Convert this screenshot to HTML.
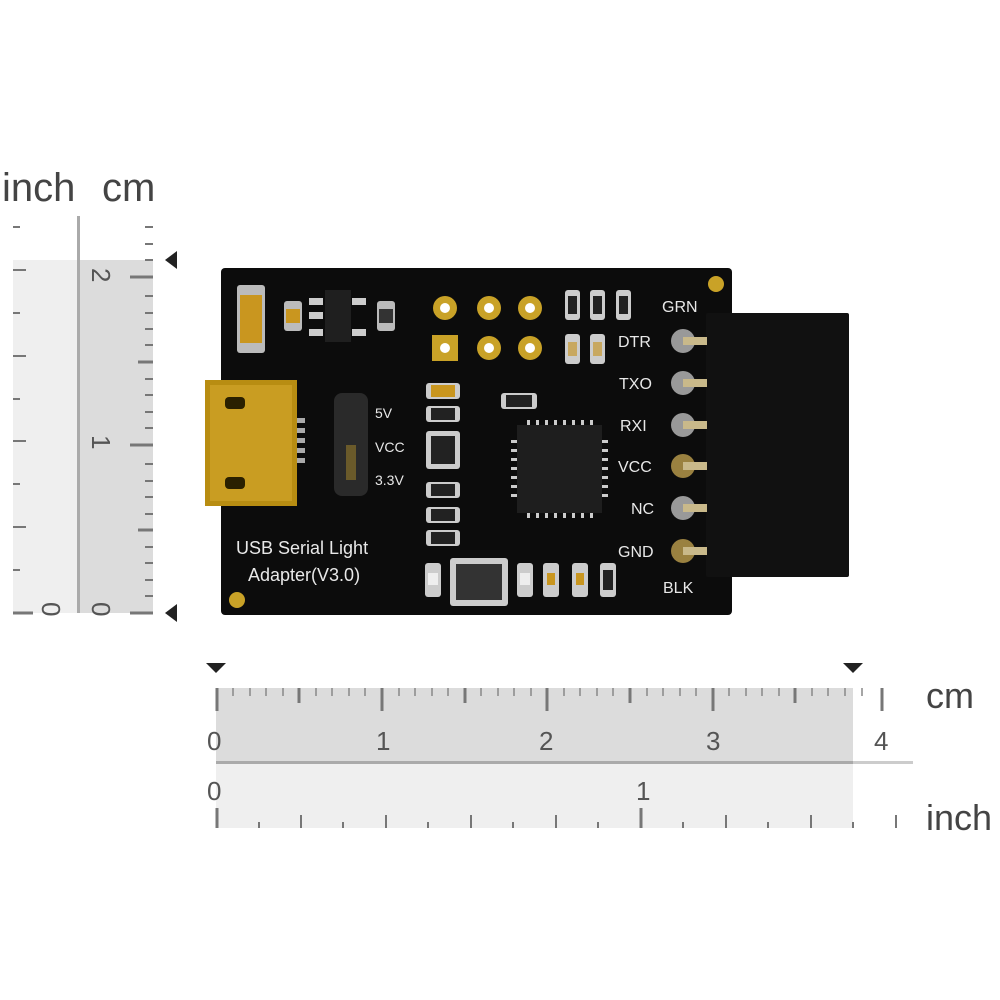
<!DOCTYPE html>
<html><head><meta charset="utf-8"><style>
body{margin:0;background:#fff}
svg{display:block}
text{font-family:"Liberation Sans","DejaVu Sans",sans-serif}
</style></head><body>
<svg width="1000" height="1000" viewBox="0 0 1000 1000" xmlns="http://www.w3.org/2000/svg">
<rect width="1000" height="1000" fill="#fff"/>
<!-- left ruler -->
<text x="2" y="201" font-size="40" fill="#444">inch</text>
<text x="102" y="201" font-size="40" fill="#444">cm</text>
<rect x="13" y="260" width="65" height="353" fill="#efefef"/>
<rect x="78" y="260" width="75" height="353" fill="#dcdcdc"/>
<rect x="77" y="216" width="3" height="397" fill="#aaa"/>
<g stroke="#777" stroke-width="2">
<line x1="145" y1="227" x2="153" y2="227"/><line x1="145" y1="244" x2="153" y2="244"/><line x1="145" y1="260" x2="153" y2="260"/>
<line x1="130" y1="277" x2="153" y2="277" stroke-width="3"/>
<line x1="145" y1="296" x2="153" y2="296"/><line x1="145" y1="313" x2="153" y2="313"/><line x1="145" y1="329" x2="153" y2="329"/><line x1="145" y1="345" x2="153" y2="345"/>
<line x1="138" y1="362" x2="153" y2="362" stroke-width="3"/>
<line x1="145" y1="379" x2="153" y2="379"/><line x1="145" y1="395" x2="153" y2="395"/><line x1="145" y1="412" x2="153" y2="412"/><line x1="145" y1="428" x2="153" y2="428"/>
<line x1="130" y1="445" x2="153" y2="445" stroke-width="3"/>
<line x1="145" y1="464" x2="153" y2="464"/><line x1="145" y1="481" x2="153" y2="481"/><line x1="145" y1="497" x2="153" y2="497"/><line x1="145" y1="514" x2="153" y2="514"/>
<line x1="138" y1="530" x2="153" y2="530" stroke-width="3"/>
<line x1="145" y1="547" x2="153" y2="547"/><line x1="145" y1="563" x2="153" y2="563"/><line x1="145" y1="580" x2="153" y2="580"/><line x1="145" y1="596" x2="153" y2="596"/>
<line x1="130" y1="613" x2="153" y2="613" stroke-width="3"/>
<line x1="13" y1="227" x2="20" y2="227"/><line x1="13" y1="270" x2="26" y2="270"/><line x1="13" y1="313" x2="20" y2="313"/><line x1="13" y1="356" x2="26" y2="356"/><line x1="13" y1="399" x2="20" y2="399"/><line x1="13" y1="441" x2="26" y2="441"/><line x1="13" y1="484" x2="20" y2="484"/><line x1="13" y1="527" x2="26" y2="527"/><line x1="13" y1="570" x2="20" y2="570"/><line x1="13" y1="613" x2="33" y2="613" stroke-width="3"/>
</g>
<g fill="#555" font-size="26">
<text transform="translate(92,268) rotate(90)">2</text>
<text transform="translate(92,435) rotate(90)">1</text>
<text transform="translate(92,602) rotate(90)">0</text>
<text transform="translate(42,602) rotate(90)">0</text>
</g>
<polygon points="165,260 177,251 177,269" fill="#222"/>
<polygon points="165,613 177,604 177,622" fill="#222"/>
<!-- bottom ruler -->
<rect x="216" y="688" width="637" height="75" fill="#dcdcdc"/>
<rect x="216" y="763" width="637" height="65" fill="#efefef"/>
<rect x="216" y="761" width="697" height="3" fill="#ccc"/>
<rect x="216" y="761" width="637" height="3" fill="#aaa"/>
<g stroke="#777" stroke-width="2">
<line x1="217" y1="688" x2="217" y2="711" stroke-width="3"/>
<line x1="382" y1="688" x2="382" y2="711" stroke-width="3"/>
<line x1="547" y1="688" x2="547" y2="711" stroke-width="3"/>
<line x1="713" y1="688" x2="713" y2="711" stroke-width="3"/>
<line x1="882" y1="688" x2="882" y2="711" stroke-width="3"/>
<line x1="299" y1="688" x2="299" y2="703" stroke-width="3"/><line x1="465" y1="688" x2="465" y2="703" stroke-width="3"/><line x1="630" y1="688" x2="630" y2="703" stroke-width="3"/><line x1="795" y1="688" x2="795" y2="703" stroke-width="3"/>
</g>
<g stroke="#888" stroke-width="1.5">
<line x1="233" y1="688" x2="233" y2="696"/><line x1="250" y1="688" x2="250" y2="696"/><line x1="266" y1="688" x2="266" y2="696"/><line x1="283" y1="688" x2="283" y2="696"/>
<line x1="316" y1="688" x2="316" y2="696"/><line x1="332" y1="688" x2="332" y2="696"/><line x1="349" y1="688" x2="349" y2="696"/><line x1="365" y1="688" x2="365" y2="696"/>
<line x1="399" y1="688" x2="399" y2="696"/><line x1="415" y1="688" x2="415" y2="696"/><line x1="432" y1="688" x2="432" y2="696"/><line x1="448" y1="688" x2="448" y2="696"/>
<line x1="481" y1="688" x2="481" y2="696"/><line x1="498" y1="688" x2="498" y2="696"/><line x1="514" y1="688" x2="514" y2="696"/><line x1="531" y1="688" x2="531" y2="696"/>
<line x1="564" y1="688" x2="564" y2="696"/><line x1="580" y1="688" x2="580" y2="696"/><line x1="597" y1="688" x2="597" y2="696"/><line x1="613" y1="688" x2="613" y2="696"/>
<line x1="647" y1="688" x2="647" y2="696"/><line x1="663" y1="688" x2="663" y2="696"/><line x1="680" y1="688" x2="680" y2="696"/><line x1="696" y1="688" x2="696" y2="696"/>
<line x1="729" y1="688" x2="729" y2="696"/><line x1="746" y1="688" x2="746" y2="696"/><line x1="762" y1="688" x2="762" y2="696"/><line x1="779" y1="688" x2="779" y2="696"/>
<line x1="812" y1="688" x2="812" y2="696"/><line x1="828" y1="688" x2="828" y2="696"/><line x1="845" y1="688" x2="845" y2="696"/><line x1="862" y1="688" x2="862" y2="696"/>
</g>
<g stroke="#777" stroke-width="2">
<line x1="217" y1="808" x2="217" y2="828" stroke-width="3"/>
<line x1="641" y1="808" x2="641" y2="828" stroke-width="3"/>
<line x1="259" y1="822" x2="259" y2="828"/><line x1="301" y1="815" x2="301" y2="828"/><line x1="343" y1="822" x2="343" y2="828"/><line x1="386" y1="815" x2="386" y2="828"/><line x1="428" y1="822" x2="428" y2="828"/><line x1="471" y1="815" x2="471" y2="828"/><line x1="513" y1="822" x2="513" y2="828"/><line x1="556" y1="815" x2="556" y2="828"/><line x1="598" y1="822" x2="598" y2="828"/>
<line x1="683" y1="822" x2="683" y2="828"/><line x1="726" y1="815" x2="726" y2="828"/><line x1="768" y1="822" x2="768" y2="828"/><line x1="811" y1="815" x2="811" y2="828"/><line x1="853" y1="822" x2="853" y2="828"/><line x1="896" y1="815" x2="896" y2="828"/>
</g>
<g fill="#555" font-size="26">
<text x="207" y="750">0</text><text x="376" y="750">1</text><text x="539" y="750">2</text><text x="706" y="750">3</text><text x="874" y="750">4</text>
<text x="207" y="800">0</text><text x="636" y="800">1</text>
</g>
<text x="926" y="708" font-size="36" fill="#444">cm</text>
<text x="926" y="830" font-size="36" fill="#444">inch</text>
<polygon points="216,673 206,663 226,663" fill="#222"/>
<polygon points="853,673 843,663 863,663" fill="#222"/>
<!-- board -->
<rect x="221" y="268" width="511" height="347" rx="4" fill="#0c0c0c"/>
<!-- header -->
<rect x="706" y="313" width="143" height="264" rx="2" fill="#111"/>
<g font-size="16" fill="#e8e8e8" font-family="DejaVu Sans">
<text x="662" y="312">GRN</text><text x="618" y="347">DTR</text><text x="619" y="389">TXO</text><text x="620" y="431">RXI</text><text x="618" y="472">VCC</text><text x="631" y="514">NC</text><text x="618" y="557">GND</text><text x="663" y="593">BLK</text>
<text x="236" y="554" font-size="18" font-family="Liberation Sans">USB Serial Light</text>
<text x="248" y="581" font-size="18" font-family="Liberation Sans">Adapter(V3.0)</text>
<text x="375" y="418" font-size="14">5V</text><text x="375" y="452" font-size="14">VCC</text><text x="375" y="485" font-size="14">3.3V</text>
</g>
<g>
<g fill="#999"><circle cx="683" cy="341" r="12"/><circle cx="683" cy="383" r="12"/><circle cx="683" cy="425" r="12"/><circle cx="683" cy="466" r="12" fill="#9a8140"/><circle cx="683" cy="508" r="12"/><circle cx="683" cy="551" r="12" fill="#9a8140"/></g>
<g fill="#c9b98a"><rect x="683" y="337" width="24" height="8"/><rect x="683" y="379" width="24" height="8"/><rect x="683" y="421" width="24" height="8"/><rect x="683" y="462" width="24" height="8"/><rect x="683" y="504" width="24" height="8"/><rect x="683" y="547" width="24" height="8"/></g>
</g>
<!-- usb connector -->
<rect x="205" y="380" width="92" height="126" fill="#b88d12"/>
<rect x="210" y="385" width="82" height="116" fill="#c99d22"/>
<rect x="225" y="397" width="20" height="12" rx="4" fill="#2a2000"/>
<rect x="225" y="477" width="20" height="12" rx="4" fill="#2a2000"/>
<g fill="#aaa"><rect x="297" y="418" width="8" height="5"/><rect x="297" y="428" width="8" height="5"/><rect x="297" y="438" width="8" height="5"/><rect x="297" y="448" width="8" height="5"/><rect x="297" y="458" width="8" height="5"/></g>
<!-- jumper -->
<rect x="334" y="393" width="34" height="103" rx="8" fill="#2a2a2a"/>
<rect x="346" y="445" width="10" height="35" fill="#6a5a2a"/>
<!-- fuse & regulator -->
<rect x="237" y="285" width="28" height="68" rx="3" fill="#bbb"/>
<rect x="240" y="295" width="22" height="48" fill="#c9961f"/>
<rect x="284" y="301" width="18" height="30" rx="3" fill="#bbb"/><rect x="286" y="309" width="14" height="14" fill="#c9961f"/>
<rect x="377" y="301" width="18" height="30" rx="3" fill="#bbb"/><rect x="379" y="309" width="14" height="14" fill="#333"/>
<rect x="325" y="290" width="26" height="52" fill="#1f1f1f"/>
<g fill="#ccc"><rect x="309" y="298" width="14" height="7"/><rect x="309" y="312" width="14" height="7"/><rect x="309" y="329" width="14" height="7"/><rect x="352" y="298" width="14" height="7"/><rect x="352" y="329" width="14" height="7"/></g>
<!-- pads -->
<g fill="#c9a227"><circle cx="445" cy="308" r="12"/><circle cx="489" cy="308" r="12"/><circle cx="530" cy="308" r="12"/><rect x="432" y="335" width="26" height="26"/><circle cx="489" cy="348" r="12"/><circle cx="530" cy="348" r="12"/><circle cx="237" cy="600" r="8"/><circle cx="716" cy="284" r="8"/></g>
<g fill="#fff"><circle cx="445" cy="308" r="5"/><circle cx="489" cy="308" r="5"/><circle cx="530" cy="308" r="5"/><circle cx="445" cy="348" r="5"/><circle cx="489" cy="348" r="5"/><circle cx="530" cy="348" r="5"/></g>
<!-- small parts -->
<g fill="#ccc">
<rect x="426" y="383" width="34" height="16" rx="3"/><rect x="426" y="406" width="34" height="16" rx="3"/><rect x="426" y="431" width="34" height="38" rx="3"/><rect x="426" y="482" width="34" height="16" rx="3"/><rect x="426" y="507" width="34" height="16" rx="3"/><rect x="426" y="530" width="34" height="16" rx="3"/>
<rect x="501" y="393" width="36" height="16" rx="3"/>
<rect x="565" y="290" width="15" height="30" rx="3"/><rect x="590" y="290" width="15" height="30" rx="3"/><rect x="616" y="290" width="15" height="30" rx="3"/>
<rect x="565" y="334" width="15" height="30" rx="3"/><rect x="590" y="334" width="15" height="30" rx="3"/>
<rect x="425" y="563" width="16" height="34" rx="3"/><rect x="517" y="563" width="16" height="34" rx="3"/><rect x="543" y="563" width="16" height="34" rx="3"/><rect x="572" y="563" width="16" height="34" rx="3"/><rect x="600" y="563" width="16" height="34" rx="3"/>
<rect x="450" y="558" width="58" height="48" rx="3"/>
</g>
<g fill="#222"><rect x="431" y="385" width="24" height="12"/><rect x="431" y="408" width="24" height="12"/><rect x="431" y="436" width="24" height="28"/><rect x="431" y="484" width="24" height="12"/><rect x="431" y="509" width="24" height="12"/><rect x="431" y="532" width="24" height="12"/><rect x="506" y="395" width="26" height="12"/><rect x="568" y="296" width="9" height="18"/><rect x="593" y="296" width="9" height="18"/><rect x="619" y="296" width="9" height="18"/><rect x="456" y="564" width="46" height="36" fill="#333"/><rect x="603" y="570" width="10" height="20"/></g>
<g fill="#c9961f"><rect x="547" y="573" width="8" height="12"/><rect x="576" y="573" width="8" height="12"/><rect x="431" y="385" width="24" height="12"/></g>
<g fill="#eee"><rect x="428" y="573" width="10" height="12"/><rect x="520" y="573" width="10" height="12"/><rect x="568" y="342" width="9" height="14" fill="#c8a860"/><rect x="593" y="342" width="9" height="14" fill="#c8a860"/></g>
<!-- chip -->
<rect x="517" y="425" width="85" height="88" fill="#1e1e1e"/>
<g fill="#ccc">
<rect x="527" y="420" width="3" height="5"/><rect x="536" y="420" width="3" height="5"/><rect x="545" y="420" width="3" height="5"/><rect x="554" y="420" width="3" height="5"/><rect x="563" y="420" width="3" height="5"/><rect x="572" y="420" width="3" height="5"/><rect x="581" y="420" width="3" height="5"/><rect x="590" y="420" width="3" height="5"/>
<rect x="527" y="513" width="3" height="5"/><rect x="536" y="513" width="3" height="5"/><rect x="545" y="513" width="3" height="5"/><rect x="554" y="513" width="3" height="5"/><rect x="563" y="513" width="3" height="5"/><rect x="572" y="513" width="3" height="5"/><rect x="581" y="513" width="3" height="5"/><rect x="590" y="513" width="3" height="5"/>
<rect x="511" y="440" width="6" height="3"/><rect x="511" y="449" width="6" height="3"/><rect x="511" y="458" width="6" height="3"/><rect x="511" y="467" width="6" height="3"/><rect x="511" y="476" width="6" height="3"/><rect x="511" y="485" width="6" height="3"/><rect x="511" y="494" width="6" height="3"/>
<rect x="602" y="440" width="6" height="3"/><rect x="602" y="449" width="6" height="3"/><rect x="602" y="458" width="6" height="3"/><rect x="602" y="467" width="6" height="3"/><rect x="602" y="476" width="6" height="3"/><rect x="602" y="485" width="6" height="3"/><rect x="602" y="494" width="6" height="3"/>
</g>
</svg>
</body></html>
